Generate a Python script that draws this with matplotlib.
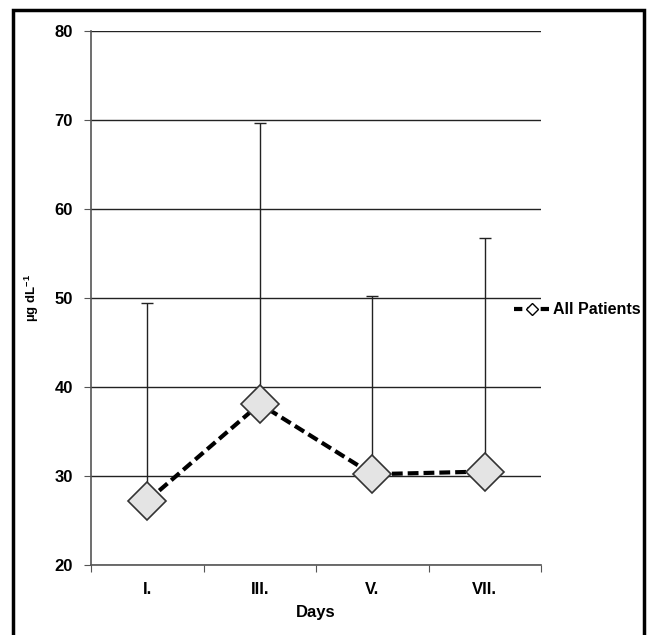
import matplotlib
matplotlib.use("Agg")
import matplotlib.pyplot as plt
from matplotlib.patches import Rectangle
from matplotlib.lines import Line2D

days = ["I.", "III.", "V.", "VII."]
means = [27.2, 38.1, 30.2, 30.5]
upper = [49.4, 69.7, 50.2, 56.7]
yticks = [20, 30, 40, 50, 60, 70, 80]

plt.rcParams['font.family'] = ['Liberation Sans Narrow', 'Liberation Sans', 'DejaVu Sans']
plt.rcParams['font.weight'] = 'bold'
plt.rcParams['mathtext.fontset'] = 'custom'
plt.rcParams['mathtext.rm'] = 'Liberation Sans:bold'
plt.rcParams['mathtext.default'] = 'rm'

fig = plt.figure(figsize=(6.47, 6.35), dpi=100)
ax = fig.add_axes([91/647, 1-565/635, 450/647, 534/635])

x = list(range(len(days)))
err_up = [u - m for u, m in zip(upper, means)]
ax.errorbar(x, means, yerr=[[0]*len(means), err_up], fmt='none', ecolor='#222222',
            elinewidth=1.0, capsize=4, capthick=1.0, zorder=2)
ax.plot(x, means, linestyle=(0, (2.6, 1.2)), color='black', linewidth=3, zorder=3)
ax.plot(x, means, linestyle='none', marker='D', markersize=19, markerfacecolor='#e4e4e4',
        markeredgecolor='#333333', markeredgewidth=1.2, zorder=4)

ax.set_xlim(-0.5, len(days) - 0.5)
ax.set_ylim(20, 80)
ax.set_yticks(yticks)
ax.set_yticklabels([str(v) for v in yticks], fontsize=12, fontweight='bold')
ax.set_xticks([i - 0.5 for i in range(len(days) + 1)])
ax.set_xticklabels([])
ax.set_xticks(x, minor=True)
ax.set_xticklabels(days, minor=True, fontsize=12, fontweight='bold')
ax.tick_params(axis='x', which='minor', length=0, pad=12)
ax.tick_params(axis='x', which='major', length=5, color='#555555', direction='out')
ax.tick_params(axis='y', length=5, color='#555555', direction='out', pad=8)
ax.yaxis.grid(True, color='#222222', linewidth=1.0)
ax.set_axisbelow(True)
for s in ['top', 'right']:
    ax.spines[s].set_visible(False)
for s in ['left', 'bottom']:
    ax.spines[s].set_color('#555555')
    ax.spines[s].set_linewidth(1.2)

ax.set_xlabel("Days", fontsize=12, fontweight='bold', labelpad=6)
ax.set_ylabel(r"µg dL$^{-1}$", fontsize=9.5, fontweight='bold')
ax.yaxis.set_label_coords(-0.11, 0.5)

handle = Line2D([], [], linestyle=(0, (2, 1.2)), color='black', linewidth=3, marker='D',
                markersize=6, markerfacecolor='white', markeredgecolor='black')
fig.legend([handle], ["All Patients"], loc='center left', bbox_to_anchor=(500/647, 1-310/635),
           frameon=False, handlelength=2.2, handletextpad=0.2,
           prop={'weight': 'bold', 'size': 11.5})

fig.patches.append(Rectangle((13/647, -0.01), (644-13)/647, 1-10/635 + 0.01,
                             transform=fig.transFigure, fill=False, edgecolor='black',
                             linewidth=2.5))

fig.savefig("out.png", dpi=100)
